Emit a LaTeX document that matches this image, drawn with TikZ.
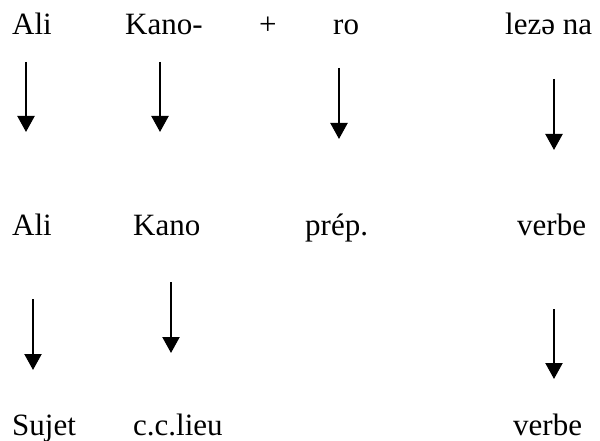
\documentclass[tikz,border=0pt]{standalone}
\usepackage{fontspec}
\setmainfont{Liberation Serif}
\usetikzlibrary{arrows.meta}

\begin{document}
\begin{tikzpicture}[
  x=1pt, y=-1pt,
  every node/.style={font=\fontsize{31}{37}\selectfont},
  word/.style={anchor=base west, inner sep=0pt},
  down/.style={-{Triangle[length=16pt, width=17pt]}, line width=2.2pt},
]
\useasboundingbox (0,0) rectangle (600,441);

%% ── Row 1: the sentence ───────────────────────────────
\node[word] (ali)   at (12, 35)  {Ali};
\node[word] (kanoh) at (125, 35) {Kano-};
\node[word] (plus)  at (259, 35) {+};
\node[word] (ro)    at (333, 35) {ro};
\node[word] (leze)  at (505, 35) {lezə na};

%% ── Row 2: glosses ────────────────────────────────────
\node[word] (alig)  at (12, 235)  {Ali};
\node[word] (kanog) at (133, 235) {Kano};
\node[word] (prep)  at (305, 235) {prép.};
\node[word] (verb)  at (517, 235) {verbe};

%% ── Row 3: functions ──────────────────────────────────
\node[word] (sujet) at (12, 435)  {Sujet};
\node[word] (cclieu) at (133, 435) {c.c.lieu};
\node[word] (verbf) at (513, 435) {verbe};

%% ── Arrow ends ────────────────────────────────────────
\coordinate (a1) at (26, 62);   \coordinate (a2) at (26, 132);
\coordinate (k1) at (160, 62);  \coordinate (k2) at (160, 132);
\coordinate (r1) at (339, 68);  \coordinate (r2) at (339, 139);
\coordinate (l1) at (554, 79);  \coordinate (l2) at (554, 150);
\coordinate (b1) at (33, 299);  \coordinate (b2) at (33, 370);
\coordinate (c1) at (171, 282); \coordinate (c2) at (171, 353);
\coordinate (v1) at (554, 309); \coordinate (v2) at (554, 379);

%% ── Arrows ────────────────────────────────────────────
\draw[down] (a1) -- (a2);
\draw[down] (k1) -- (k2);
\draw[down] (r1) -- (r2);
\draw[down] (l1) -- (l2);
\draw[down] (b1) -- (b2);
\draw[down] (c1) -- (c2);
\draw[down] (v1) -- (v2);

\end{tikzpicture}
\end{document}
